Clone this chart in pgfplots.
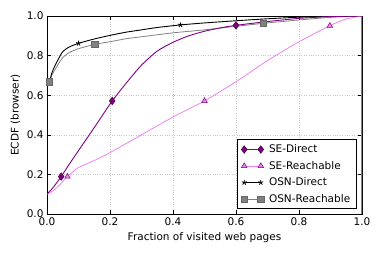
\documentclass[border=0pt]{standalone}
\usepackage{pgfplots}
\pgfplotsset{compat=1.18}
\usepackage{fontspec}
\setmainfont{DejaVu Sans}
\definecolor{sepurple}{RGB}{128,0,128}
\definecolor{seviolet}{RGB}{238,130,238}
\definecolor{osngray}{RGB}{128,128,128}
\begin{document}
\begin{tikzpicture}
\useasboundingbox (-47pt,-41pt) rectangle (335pt,214pt);
\begin{axis}[
  scale only axis,
  width=315pt, height=198pt,
  xmin=0, xmax=1, ymin=0, ymax=1,
  xtick={0,0.2,0.4,0.6,0.8,1.0},
  ytick={0,0.2,0.4,0.6,0.8,1.0},
  /pgf/number format/assume math mode=true,
  xticklabel style={/pgf/number format/.cd,fixed,fixed zerofill,precision=1},
  yticklabel style={/pgf/number format/.cd,fixed,fixed zerofill,precision=1},
  tick label style={font=\fontsize{10.5}{12}\selectfont},
  label style={font=\fontsize{10.5}{12}\selectfont},
  xlabel={Fraction of visited web pages},
  ylabel={ECDF (browser)},
  grid=major,
  major grid style={dotted, gray!45},
  tick align=inside,
  major tick length=4pt,
  tick style={black, line width=0.6pt},
  axis line style={line width=0.8pt},
  legend style={at={(1,0)}, anchor=south east, xshift=-5.5pt, yshift=5pt,
    font=\fontsize{10.5}{12}\selectfont, draw=black, line width=0.6pt,
    row sep=3pt, inner xsep=4pt, inner ysep=3pt,
    /tikz/every odd column/.append style={column sep=3pt}},
  legend cell align=left,
  legend image code/.code={\draw[mark repeat=2,mark phase=1,#1] plot coordinates {(0pt,0pt) (8.3pt,0pt) (16.6pt,0pt)};},
]
% right spine
\addplot[osngray, line width=1.2pt, forget plot] coordinates {(1,0) (1,1)};
% OSN-Reachable
\addplot[osngray, line width=0.8pt, smooth, tension=0.4, mark=square*, mark size=3.2pt,
  mark options={fill=osngray, draw=black!60, line width=0.5pt},
  mark indices={1,8,15}, forget plot] coordinates {
(0.008,0.668) (0.015,0.70) (0.024,0.725) (0.037,0.76) (0.05,0.79) (0.07,0.815) (0.10,0.835)
(0.152,0.857) (0.20,0.87) (0.25,0.885) (0.30,0.895) (0.40,0.915) (0.50,0.93) (0.60,0.948)
(0.687,0.963) (0.80,0.98) (0.90,0.993) (1,1)};
% OSN-Direct
\addplot[black, line width=0.9pt, smooth, tension=0.4, mark=star, mark size=2.6pt,
  mark options={draw=black, line width=0.8pt},
  mark indices={7,13}, forget plot] coordinates {
(0.008,0.668) (0.015,0.71) (0.024,0.745) (0.037,0.785) (0.05,0.82) (0.07,0.843) (0.10,0.862)
(0.15,0.884) (0.20,0.902) (0.25,0.918) (0.30,0.93) (0.35,0.942) (0.424,0.955) (0.50,0.965)
(0.60,0.976) (0.70,0.986) (0.80,0.994) (0.90,0.999) (1,1)};
% SE-Reachable
\addplot[seviolet, line width=0.8pt, smooth, tension=0.4, mark=triangle*, mark size=3.2pt,
  mark options={fill=seviolet, draw=sepurple, line width=0.5pt},
  mark indices={4,10,14}, forget plot] coordinates {
(0,0.10) (0.02,0.118) (0.04,0.147) (0.065,0.189) (0.10,0.235) (0.15,0.27) (0.20,0.31)
(0.30,0.40) (0.40,0.49) (0.50,0.571) (0.60,0.668) (0.70,0.775) (0.80,0.87) (0.898,0.951)
(0.95,0.985) (1.0,1.0)};
% SE-Direct
\addplot[sepurple, line width=0.9pt, smooth, tension=0.4, mark=diamond*, mark size=3.8pt,
  mark options={fill=sepurple, draw=black!50!sepurple, line width=0.5pt},
  mark indices={3,8,16}, forget plot] coordinates {
(0,0.10) (0.02,0.135) (0.045,0.189) (0.07,0.25) (0.10,0.32) (0.13,0.39) (0.16,0.46)
(0.207,0.571) (0.255,0.668) (0.30,0.752) (0.35,0.823) (0.40,0.867) (0.45,0.90) (0.50,0.923)
(0.55,0.94) (0.60,0.953) (0.70,0.972) (0.80,0.988) (0.90,0.997) (1.0,1.0)};
\addlegendimage{sepurple, line width=0.9pt, mark=diamond*, mark size=3.8pt, mark options={fill=sepurple, draw=black!50!sepurple, line width=0.5pt}}
\addlegendentry{SE-Direct}
\addlegendimage{seviolet, line width=0.8pt, mark=triangle*, mark size=3.2pt, mark options={fill=seviolet, draw=sepurple, line width=0.5pt}}
\addlegendentry{SE-Reachable}
\addlegendimage{black, line width=0.9pt, mark=star, mark size=2.6pt, mark options={draw=black, line width=0.8pt}}
\addlegendentry{OSN-Direct}
\addlegendimage{osngray, line width=0.8pt, mark=square*, mark size=3.2pt, mark options={fill=osngray, draw=black!60, line width=0.5pt}}
\addlegendentry{OSN-Reachable}
\end{axis}
\end{tikzpicture}
\end{document}
